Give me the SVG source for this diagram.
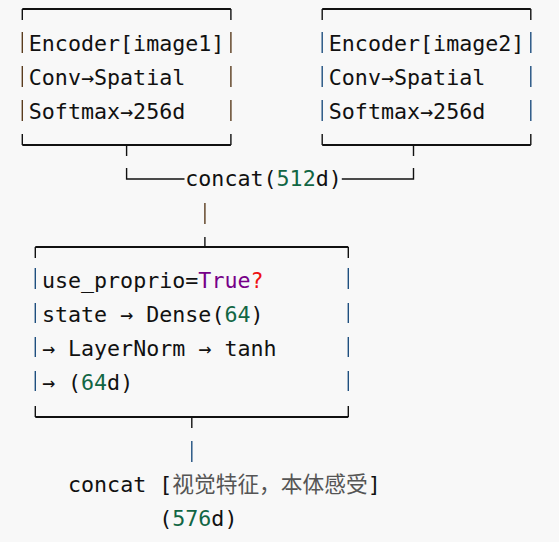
<svg xmlns="http://www.w3.org/2000/svg" width="559" height="542" viewBox="0 0 559 542">
<style>
.t{font-family:"DejaVu Sans Mono","Noto Sans CJK SC",monospace;font-size:21.66px;fill:#111;white-space:pre}
.n{fill:#116644}
.k{fill:#770088}
.e{fill:#ee1111}
.cjk{fill:#555;font-family:"Noto Sans CJK SC",sans-serif;font-size:21.73px}
.h{stroke:#111;stroke-width:1.8;fill:none}
.c{stroke:#111;stroke-width:1.4;fill:none}
.vb{stroke:#5a3c1e;stroke-width:1.4;fill:none}
.vu{stroke:#1f4f7f;stroke-width:1.4;fill:none}
</style>
<rect width="559" height="542" fill="#f8f8f8"/>
<g id="encoder1">
  <path class="h" d="M22.3 9H230.9M22.3 145H230.9"/>
  <path class="c" d="M22.3 9V20M230.9 9V20M22.3 134V145M230.9 134V145"/>
  <path class="vb" d="M22.3 32V53M22.3 66V87M22.3 100V121M230.9 32V53M230.9 66V87M230.9 100V121"/>
  <text class="t" x="28.8" y="51">Encoder[image1]</text>
  <text class="t" x="28.8" y="85">Conv→Spatial</text>
  <text class="t" x="28.8" y="119">Softmax→256d</text>
</g>
<g id="encoder2">
  <path class="h" d="M322.2 9H530.8M322.2 145H530.8"/>
  <path class="c" d="M322.2 9V20M530.8 9V20M322.2 134V145M530.8 134V145"/>
  <path class="vu" d="M322.2 32V53M322.2 66V87M322.2 100V121M530.8 32V53M530.8 66V87M530.8 100V121"/>
  <text class="t" x="328.8" y="51">Encoder[image2]</text>
  <text class="t" x="328.8" y="85">Conv→Spatial</text>
  <text class="t" x="328.8" y="119">Softmax→256d</text>
</g>
<g id="concat512">
  <text class="t" x="185.3" y="186">concat(<tspan class="n">512</tspan>d)</text>
</g>
<g id="proprio">
  <path class="h" d="M35.3 247H348.3M35.3 417H348.3"/>
  <path class="c" d="M35.3 247V258M348.3 247V258M35.3 406V417M348.3 406V417"/>
  <path class="vu" d="M35.3 268V289M35.3 303V323M35.3 337V357M35.3 371V391M348.3 268V289M348.3 303V323M348.3 337V357M348.3 371V391"/>
  <text class="t" x="41.9" y="288">use_proprio=<tspan class="k">True</tspan><tspan class="e">?</tspan></text>
  <text class="t" x="41.9" y="322">state → Dense(<tspan class="n">64</tspan>)</text>
  <text class="t" x="41.9" y="356">→ LayerNorm → tanh</text>
  <text class="t" x="41.9" y="390">→ (<tspan class="n">64</tspan>d)</text>
</g>
<g id="output">
  <text class="t" x="68" y="492">concat</text>
  <text class="t" x="159.2" y="492">[<tspan class="cjk">视觉特征，本体感受</tspan>]</text>
  <text class="t" x="159.2" y="526">(<tspan class="n">576</tspan>d)</text>
</g>
<g id="connectors">
  <path class="c" d="M126.6 145V156M126.6 168V179H184.5"/>
  <path class="c" d="M341.8 179H413.5V168M413.5 156V145"/>
  <path class="vb" d="M204.9 203V224"/>
  <path class="c" d="M204.9 237V247"/>
  <path class="c" d="M191.8 417V428"/>
  <path class="vu" d="M191.8 441V462"/>
</g>
</svg>
